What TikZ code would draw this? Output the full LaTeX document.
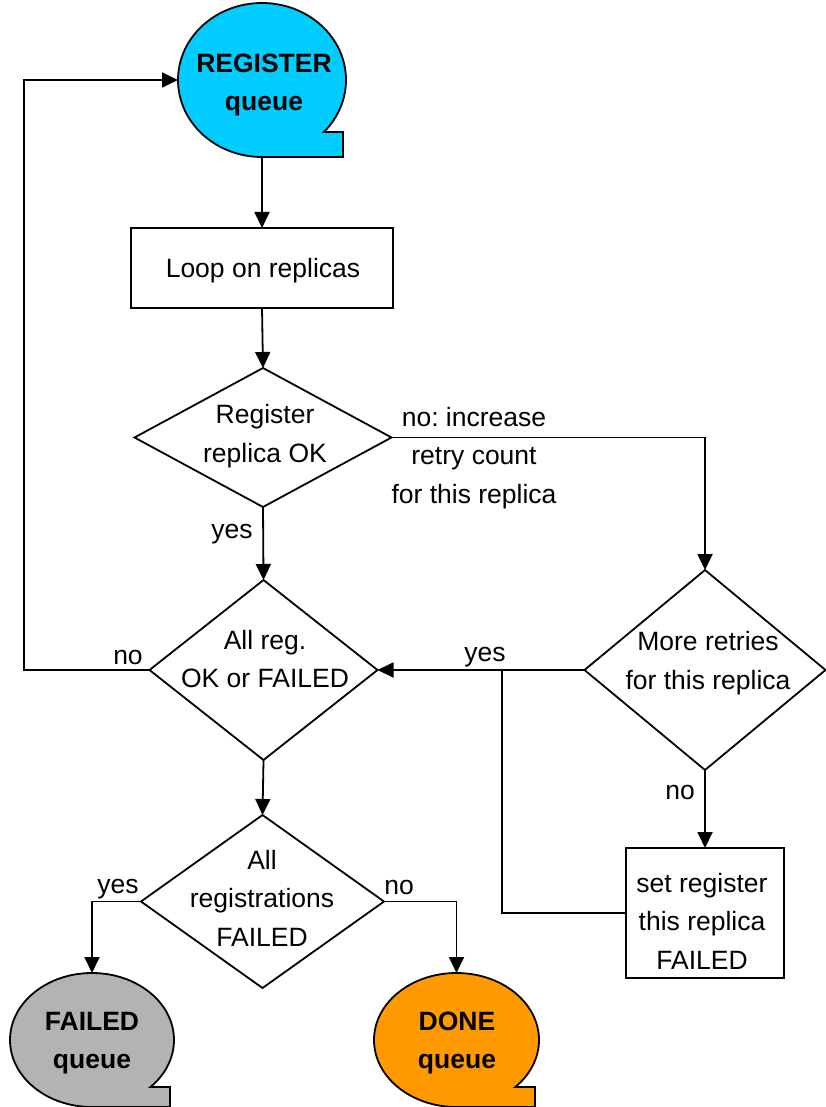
\documentclass[tikz,border=0pt]{standalone}
\usepackage{fontspec}
\setmainfont{Liberation Sans}
\usetikzlibrary{shapes.geometric,arrows.meta}
\definecolor{regcol}{HTML}{00CCFF}
\definecolor{failcol}{HTML}{B3B3B3}
\definecolor{donecol}{HTML}{FF9900}
\frenchspacing
\begin{document}
\begin{tikzpicture}[x=1pt,y=-1pt,
  every node/.style={font=\fontsize{26.5}{38.5}\selectfont, align=center, inner sep=0pt, outer sep=0pt},
  outline/.style={draw=black, line width=1.8pt},
  procbox/.style={outline, rectangle},
  decision/.style={outline, diamond},
  queueanchor/.style={ellipse},
  qlabel/.style={font=\fontsize{26.5}{38.5}\selectfont\bfseries},
  flow/.style={line width=1.8pt, -{Triangle[length=16pt,width=15pt]}},
  plainline/.style={line width=1.8pt}
]
\useasboundingbox (0,0) rectangle (825,1107);

% queue symbols: ellipse with a square tab at the lower right
\path[outline, fill=regcol] (262,157) arc[start angle=90, end angle=402.5, x radius=84, y radius=77]
  -- (343,132) -- (343,157) -- cycle;
\node[queueanchor, minimum width=168, minimum height=154] (reg) at (262,80) {};
\node[qlabel] (regt) at (264,85) {REGISTER\\queue};

\path[outline, fill=failcol] (92,1107) arc[start angle=90, end angle=404.5, x radius=82, y radius=67]
  -- (170,1087) -- (170,1107) -- cycle;
\node[queueanchor, minimum width=164, minimum height=134] (failq) at (92,1040) {};
\node[qlabel] (failqt) at (92,1043) {FAILED\\queue};

\path[outline, fill=donecol] (456.5,1107) arc[start angle=90, end angle=404.5, x radius=82.5, y radius=67]
  -- (535,1087) -- (535,1107) -- cycle;
\node[queueanchor, minimum width=165, minimum height=134] (doneq) at (456.5,1040) {};
\node[qlabel] (doneqt) at (457,1043) {DONE\\queue};

% process boxes
\node[procbox, minimum width=262, minimum height=80] (loop) at (262,268) {};
\node (loopt) at (263,271) {Loop on replicas};
\node[procbox, minimum width=158, minimum height=130] (setfail) at (705,913) {};
\node (setfailt) at (702,921) {set register\\this replica\\FAILED};

% decisions
\node[decision, minimum width=257, minimum height=139] (d1) at (263,437.5) {};
\node (d1t) at (265,436) {Register\\replica OK};
\node[decision, minimum width=228, minimum height=180] (d2) at (263.5,670) {};
\node (d2t) at (265,659) {All reg.\\OK or FAILED};
\node[decision, minimum width=243, minimum height=173] (d3) at (262.5,901.5) {};
\node (d3t) at (262,898) {All\\registrations\\FAILED};
\node[decision, minimum width=241, minimum height=200] (d4) at (705,670) {};
\node (d4t) at (708,663) {More retries\\for this replica};

% connector helpers
\coordinate (back) at (24,670);
\coordinate (merge) at (502,670);

% connectors
\draw[flow] (reg.south) -- (reg.south |- loop.north);
\draw[flow] (loop.south) -- (d1.north);
\draw[flow] (d1.south) -- (d2.north);
\draw[flow] (d1.east) -| (d4.north);
\draw[flow] (d4.west) -- (d2.east);
\draw[flow] (d4.south) -- (setfail.north);
\draw[plainline] (setfail.west) -| (merge);
\draw[flow] (d2.west) -- (back) |- (reg.west);
\draw[flow] (d2.south) -- (d3.north);
\draw[flow] (d3.west) -| (failq.north);
\draw[flow] (d3.east) -| (doneq.north);

% connector labels
\node (lyes1) at (232,534) {yes};
\node (lno1) at (474,458) {no: increase\\retry count\\for this replica};
\node (lyes2) at (485,657) {yes};
\node (lno2) at (128,657) {no};
\node (lno3) at (680,792) {no};
\node (lyes3) at (118,889) {yes};
\node (lno4) at (399,887) {no};
\end{tikzpicture}
\end{document}
